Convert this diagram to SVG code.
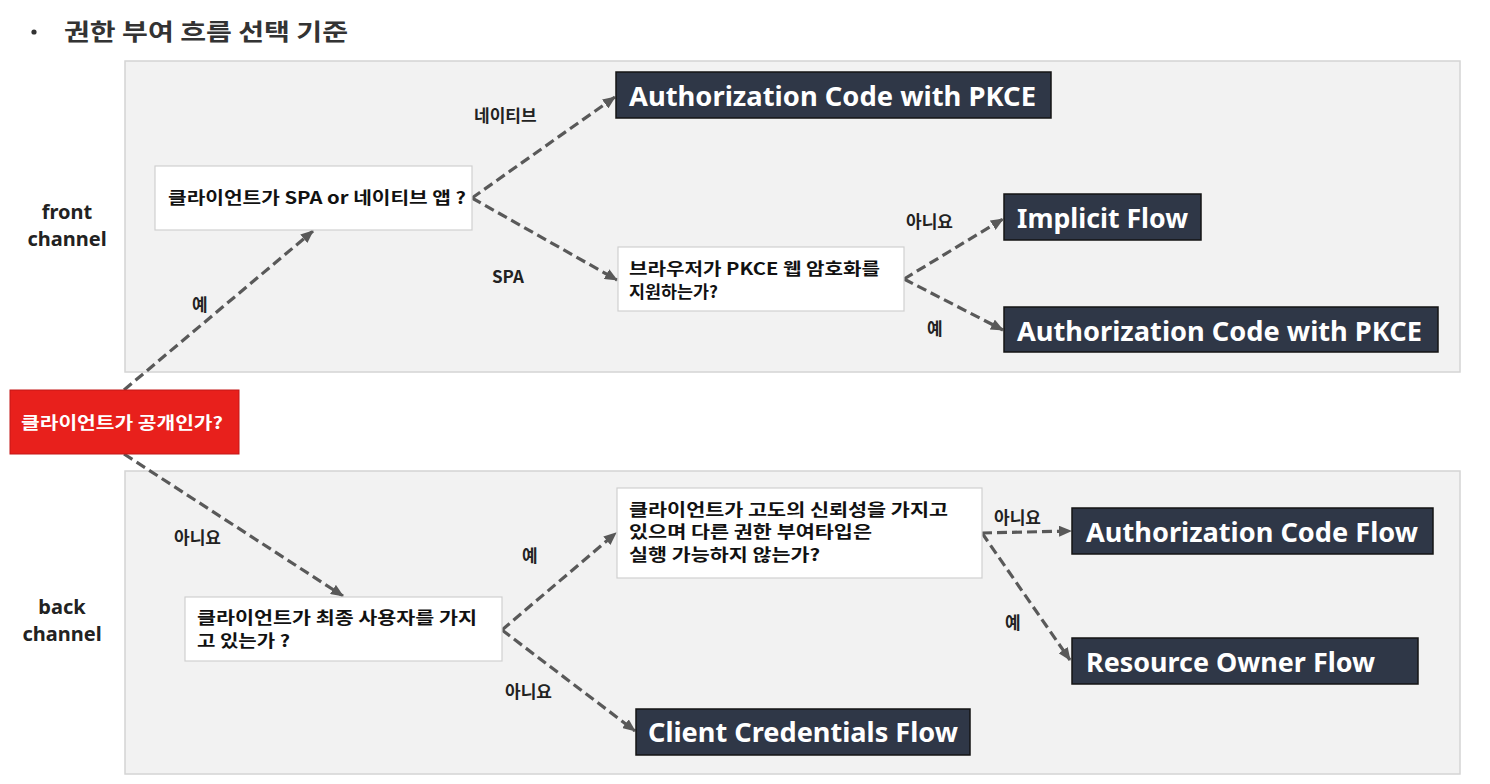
<svg xmlns="http://www.w3.org/2000/svg" width="1490" height="784" viewBox="0 0 1490 784">
<defs>
<style>
.panel{fill:#f2f2f2;stroke:#d4d4d4;stroke-width:1.5}
.q{fill:#ffffff;stroke:#d0d0d0;stroke-width:1.2}
.res{fill:#2f3747;stroke:#141414;stroke-width:1.5}
.red{fill:#e8201c;stroke:#c41616;stroke-width:1}
.kt{font-family:"Noto Sans CJK KR","Noto Sans",sans-serif;font-weight:bold;font-size:16.5px;fill:#111}
.wt{font-family:"Noto Sans CJK KR","Noto Sans",sans-serif;font-weight:bold;font-size:16.5px;fill:#ffffff}
.lbl{font-family:"Noto Sans CJK KR","Noto Sans",sans-serif;font-weight:bold;font-size:17px;fill:#222}
.rt{font-family:"Noto Sans","Noto Sans CJK KR",sans-serif;font-weight:bold;font-size:27px;fill:#ffffff}
.side{font-family:"Noto Sans","Noto Sans CJK KR",sans-serif;font-weight:bold;font-size:20px;fill:#222;text-anchor:middle}
.title{font-family:"Noto Sans CJK KR",sans-serif;font-weight:bold;font-size:23px;fill:#333}
.c{fill:none;stroke:#595959;stroke-width:3.2;stroke-dasharray:10 5}
</style>
<marker id="ah" viewBox="0 0 13 11" refX="12" refY="5.5" markerWidth="13" markerHeight="11" markerUnits="userSpaceOnUse" orient="auto">
<path d="M0,0 L13,5.5 L0,11 z" fill="#595959"/>
</marker>
</defs>
<rect width="1490" height="784" fill="#ffffff"/>
<g id="title">
<circle cx="34" cy="32" r="2.6" fill="#333"/>
<text class="title" x="64" y="40" textLength="284" lengthAdjust="spacingAndGlyphs">권한 부여 흐름 선택 기준</text>
</g>
<g id="panel-front">
<rect class="panel" x="125" y="61" width="1335" height="311"/>
<text class="side" x="67" y="219">front</text>
<text class="side" x="67" y="246">channel</text>
</g>
<g id="panel-back">
<rect class="panel" x="125" y="471" width="1335" height="303"/>
<text class="side" x="62" y="614">back</text>
<text class="side" x="62" y="641">channel</text>
</g>
<g id="connectors">
<line class="c" x1="124" y1="390" x2="313" y2="231" marker-end="url(#ah)"/>
<line class="c" x1="124" y1="454" x2="343" y2="596" marker-end="url(#ah)"/>
<line class="c" x1="472" y1="198" x2="615" y2="97" marker-end="url(#ah)"/>
<line class="c" x1="472" y1="198" x2="617" y2="280" marker-end="url(#ah)"/>
<line class="c" x1="904" y1="279" x2="1003" y2="219" marker-end="url(#ah)"/>
<line class="c" x1="904" y1="279" x2="1003" y2="330" marker-end="url(#ah)"/>
<line class="c" x1="502" y1="630" x2="616" y2="533" marker-end="url(#ah)"/>
<line class="c" x1="502" y1="630" x2="635" y2="731" marker-end="url(#ah)"/>
<line class="c" x1="982" y1="533" x2="1071" y2="531" marker-end="url(#ah)"/>
<line class="c" x1="982" y1="533" x2="1070" y2="660" marker-end="url(#ah)"/>
<text class="lbl" x="474" y="122">네이티브</text>
<text class="lbl" x="492" y="283">SPA</text>
<text class="lbl" x="192" y="311">예</text>
<text class="lbl" x="906" y="228">아니요</text>
<text class="lbl" x="927" y="335">예</text>
<text class="lbl" x="174" y="544">아니요</text>
<text class="lbl" x="522" y="562">예</text>
<text class="lbl" x="505" y="698">아니요</text>
<text class="lbl" x="994" y="524">아니요</text>
<text class="lbl" x="1005" y="629">예</text>
</g>
<g id="node-public">
<rect class="red" x="10" y="390" width="229" height="64"/>
<text class="wt" x="21" y="429" textLength="202" lengthAdjust="spacingAndGlyphs">클라이언트가 공개인가?</text>
</g>
<g id="node-spa-native">
<rect class="q" x="155" y="166" width="317" height="64"/>
<text class="kt" x="168" y="204" textLength="298" lengthAdjust="spacingAndGlyphs">클라이언트가 SPA or 네이티브 앱 ?</text>
</g>
<g id="node-browser-pkce">
<rect class="q" x="618" y="247" width="286" height="64"/>
<text class="kt" x="629" y="275" textLength="251" lengthAdjust="spacingAndGlyphs">브라우저가 PKCE 웹 암호화를</text>
<text class="kt" x="629" y="298" textLength="89" lengthAdjust="spacingAndGlyphs">지원하는가?</text>
</g>
<g id="node-auth-pkce-native">
<rect class="res" x="616" y="72" width="435" height="46"/>
<text class="rt" x="629" y="106" textLength="407" lengthAdjust="spacingAndGlyphs">Authorization Code with PKCE</text>
</g>
<g id="node-implicit">
<rect class="res" x="1004" y="194" width="197" height="46"/>
<text class="rt" x="1017" y="228" textLength="171" lengthAdjust="spacingAndGlyphs">Implicit Flow</text>
</g>
<g id="node-auth-pkce-spa">
<rect class="res" x="1004" y="307" width="434" height="45"/>
<text class="rt" x="1017" y="341" textLength="405" lengthAdjust="spacingAndGlyphs">Authorization Code with PKCE</text>
</g>
<g id="node-end-user">
<rect class="q" x="185" y="597" width="317" height="64"/>
<text class="kt" x="197" y="624" textLength="280" lengthAdjust="spacingAndGlyphs">클라이언트가 최종 사용자를 가지</text>
<text class="kt" x="197" y="647" textLength="93" lengthAdjust="spacingAndGlyphs">고 있는가 ?</text>
</g>
<g id="node-trust">
<rect class="q" x="617" y="488" width="365" height="90"/>
<text class="kt" x="629" y="516" textLength="319" lengthAdjust="spacingAndGlyphs">클라이언트가 고도의 신뢰성을 가지고</text>
<text class="kt" x="629" y="538" textLength="243" lengthAdjust="spacingAndGlyphs">있으며 다른 권한 부여타입은</text>
<text class="kt" x="629" y="561" textLength="191" lengthAdjust="spacingAndGlyphs">실행 가능하지 않는가?</text>
</g>
<g id="node-auth-code">
<rect class="res" x="1072" y="508" width="361" height="46"/>
<text class="rt" x="1086" y="542" textLength="332" lengthAdjust="spacingAndGlyphs">Authorization Code Flow</text>
</g>
<g id="node-resource-owner">
<rect class="res" x="1072" y="638" width="346" height="46"/>
<text class="rt" x="1086" y="672" textLength="289" lengthAdjust="spacingAndGlyphs">Resource Owner Flow</text>
</g>
<g id="node-client-credentials">
<rect class="res" x="636" y="709" width="334" height="46"/>
<text class="rt" x="648" y="742" textLength="310" lengthAdjust="spacingAndGlyphs">Client Credentials Flow</text>
</g>
</svg>
